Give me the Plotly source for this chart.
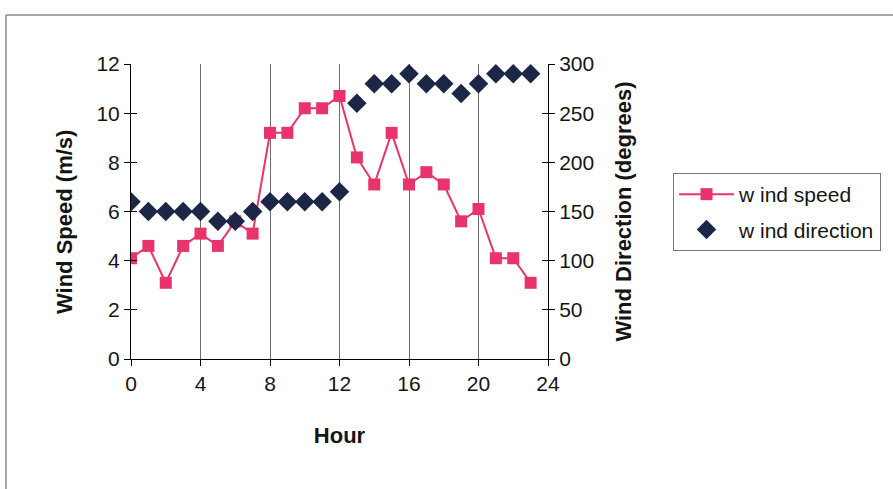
import plotly.graph_objects as go

# Hourly observations
hours = list(range(24))
wind_speed = [4.1, 4.6, 3.1, 4.6, 5.1, 4.6, 5.6, 5.1, 9.2, 9.2, 10.2, 10.2,
              10.7, 8.2, 7.1, 9.2, 7.1, 7.6, 7.1, 5.6, 6.1, 4.1, 4.1, 3.1]
wind_direction = [160, 150, 150, 150, 150, 140, 140, 150, 160, 160, 160, 160,
                  170, 260, 280, 280, 290, 280, 280, 270, 280, 290, 290, 290]

speed_ticks = [0, 2, 4, 6, 8, 10, 12]
direction_ticks = [0, 50, 100, 150, 200, 250, 300]
hour_ticks = [0, 4, 8, 12, 16, 20, 24]

W, H = 893, 489
L, R, T, B = 131, 548, 64, 359  # plot area edges in pixels

FAMILY = "Arial, Liberation Sans, sans-serif"
INK = "#151515"

fig = go.Figure()
fig.add_trace(go.Scatter(
    x=hours, y=wind_speed, name="w ind speed", mode="lines+markers",
    legendgroup="speed",
    line=dict(color="#E8336B", width=2),
    marker=dict(symbol="square", size=12, color="#E8336B"),
))
fig.add_trace(go.Scatter(
    x=hours, y=wind_direction, name="w ind direction", mode="markers",
    yaxis="y2", legendgroup="direction",
    marker=dict(symbol="diamond", size=15, color="#1C2748"),
))
# empty traces so the companion tick axes get drawn
fig.add_trace(go.Scatter(x=[], y=[], yaxis="y3", showlegend=False, hoverinfo="skip"))
fig.add_trace(go.Scatter(x=[], y=[], yaxis="y4", showlegend=False, hoverinfo="skip"))


def px_x(p):
    return (p - L) / (R - L)


def px_y(p):
    return (B - p) / (B - T)


tick_font = dict(family=FAMILY, size=21, color=INK)
title_font = dict(family=FAMILY, size=22, color=INK)

fig.update_layout(
    width=W, height=H,
    margin=dict(l=L, r=W - R, t=T, b=H - B),
    paper_bgcolor="white", plot_bgcolor="white",
    font=dict(family=FAMILY, size=21, color=INK),
    showlegend=True,
    legend=dict(
        x=px_x(673), y=px_y(173), xanchor="left", yanchor="top",
        bordercolor="#777777", borderwidth=1, bgcolor="white",
        font=dict(family=FAMILY, size=21, color=INK),
        tracegroupgap=5, itemwidth=55,
    ),
    xaxis=dict(
        range=[0, 24], tickvals=hour_ticks, ticks="outside", ticklen=6,
        tickcolor="black", showline=True, linecolor="black", linewidth=1,
        showgrid=True, gridcolor="#6e6e6e", gridwidth=1, zeroline=False,
        tickfont=tick_font,
        title=dict(text="<b>Hour</b>", standoff=33, font=title_font),
    ),
    yaxis=dict(
        range=[0, 12], tickvals=speed_ticks, ticks="outside", ticklen=6,
        tickcolor="black", showline=True, linecolor="black", linewidth=1,
        showgrid=False, zeroline=False, tickfont=tick_font,
    ),
    yaxis2=dict(
        range=[0, 300], tickvals=direction_ticks, ticks="outside", ticklen=6,
        tickcolor="black", showline=True, linecolor="black", linewidth=1,
        overlaying="y", side="right", showgrid=False, zeroline=False,
        tickfont=tick_font,
        title=dict(text="<b>Wind Direction (degrees)</b>", standoff=22, font=title_font),
    ),
    # companion axes carrying the inner half of the crossing tick marks
    yaxis3=dict(
        range=[0, 12], tickvals=speed_ticks, ticks="inside", ticklen=6,
        tickcolor="black", showticklabels=False, showline=False,
        showgrid=False, zeroline=False, overlaying="y", side="left", anchor="x",
    ),
    yaxis4=dict(
        range=[0, 300], tickvals=direction_ticks, ticks="inside", ticklen=6,
        tickcolor="black", showticklabels=False, showline=False,
        showgrid=False, zeroline=False, overlaying="y", side="right", anchor="x",
    ),
    annotations=[
        dict(text="<b>Wind Speed (m/s)</b>", textangle=-90, font=title_font,
             xref="paper", yref="paper", x=px_x(64), y=px_y(222),
             xanchor="center", yanchor="middle", showarrow=False),
    ],
    shapes=[
        dict(type="line", xref="paper", yref="paper",
             x0=px_x(6), x1=px_x(W + 5), y0=px_y(15), y1=px_y(15),
             line=dict(color="#8a8a8a", width=1.5)),
        dict(type="line", xref="paper", yref="paper",
             x0=px_x(6), x1=px_x(6), y0=px_y(15), y1=px_y(H + 5),
             line=dict(color="#8a8a8a", width=1.5)),
    ],
)

fig.write_html("out.html")
